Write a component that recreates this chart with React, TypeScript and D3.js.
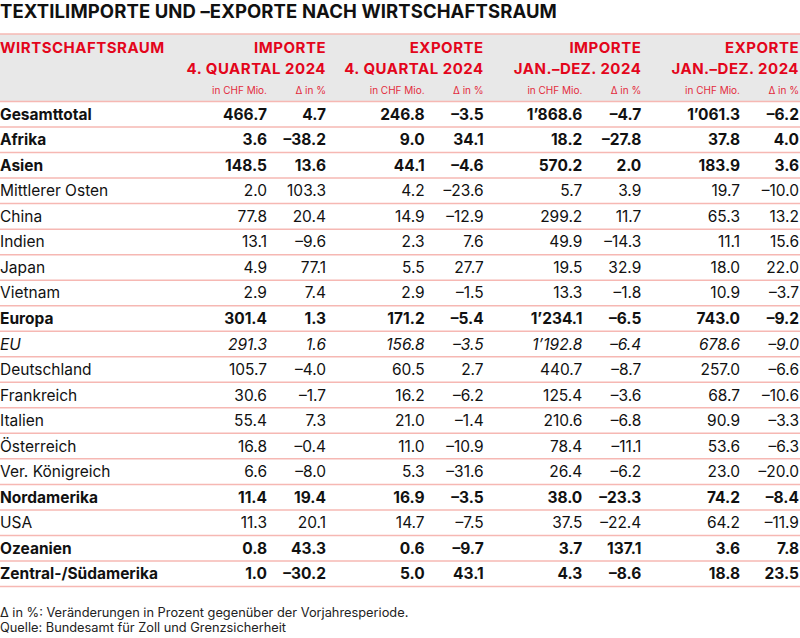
import React from "react";
import * as d3 from "d3";

const title = "TEXTILIMPORTE UND –EXPORTE NACH WIRTSCHAFTSRAUM";
const firstHeader = "WIRTSCHAFTSRAUM";
const groupHeaders1 = ["IMPORTE", "EXPORTE", "IMPORTE", "EXPORTE"];
const groupHeaders2 = ["4. QUARTAL 2024", "4. QUARTAL 2024", "JAN.–DEZ. 2024", "JAN.–DEZ. 2024"];
const subHeaders = ["in CHF Mio.", "Δ in %"];

const regions = [
  "Gesamttotal", "Afrika", "Asien", "Mittlerer Osten", "China", "Indien", "Japan", "Vietnam",
  "Europa", "EU", "Deutschland", "Frankreich", "Italien", "Österreich", "Ver. Königreich",
  "Nordamerika", "USA", "Ozeanien", "Zentral-/Südamerika",
];
const rowStyles = [
  "bold", "bold", "bold", "normal", "normal", "normal", "normal", "normal",
  "bold", "italic", "normal", "normal", "normal", "normal", "normal",
  "bold", "normal", "bold", "bold",
];
const importQ4 = ["466.7", "3.6", "148.5", "2.0", "77.8", "13.1", "4.9", "2.9", "301.4", "291.3", "105.7", "30.6", "55.4", "16.8", "6.6", "11.4", "11.3", "0.8", "1.0"];
const importQ4Delta = ["4.7", "–38.2", "13.6", "103.3", "20.4", "–9.6", "77.1", "7.4", "1.3", "1.6", "–4.0", "–1.7", "7.3", "–0.4", "–8.0", "19.4", "20.1", "43.3", "–30.2"];
const exportQ4 = ["246.8", "9.0", "44.1", "4.2", "14.9", "2.3", "5.5", "2.9", "171.2", "156.8", "60.5", "16.2", "21.0", "11.0", "5.3", "16.9", "14.7", "0.6", "5.0"];
const exportQ4Delta = ["–3.5", "34.1", "–4.6", "–23.6", "–12.9", "7.6", "27.7", "–1.5", "–5.4", "–3.5", "2.7", "–6.2", "–1.4", "–10.9", "–31.6", "–3.5", "–7.5", "–9.7", "43.1"];
const importYear = ["1’868.6", "18.2", "570.2", "5.7", "299.2", "49.9", "19.5", "13.3", "1’234.1", "1’192.8", "440.7", "125.4", "210.6", "78.4", "26.4", "38.0", "37.5", "3.7", "4.3"];
const importYearDelta = ["–4.7", "–27.8", "2.0", "3.9", "11.7", "–14.3", "32.9", "–1.8", "–6.5", "–6.4", "–8.7", "–3.6", "–6.8", "–11.1", "–6.2", "–23.3", "–22.4", "137.1", "–8.6"];
const exportYear = ["1’061.3", "37.8", "183.9", "19.7", "65.3", "11.1", "18.0", "10.9", "743.0", "678.6", "257.0", "68.7", "90.9", "53.6", "23.0", "74.2", "64.2", "3.6", "18.8"];
const exportYearDelta = ["–6.2", "4.0", "3.6", "–10.0", "13.2", "15.6", "22.0", "–3.7", "–9.2", "–9.0", "–6.6", "–10.6", "–3.3", "–6.3", "–20.0", "–8.4", "–11.9", "7.8", "23.5"];
const footnotes = [
  "Δ in %: Veränderungen in Prozent gegenüber der Vorjahresperiode.",
  "Quelle: Bundesamt für Zoll und Grenzsicherheit",
];

const W = 800;
const H = 638;
const FONT = "Inter, 'Noto Sans', Roboto, sans-serif";
const RED = "#e3051b";
const LINE = "#f6b8b3";

export default function App() {
  const groups = [
    [importQ4, importQ4Delta],
    [exportQ4, exportQ4Delta],
    [importYear, importYearDelta],
    [exportYear, exportYearDelta],
  ];
  const y = d3.scaleBand<string>().domain(regions).range([101.5, 586.5]).padding(0);
  const gx = d3.scaleLinear().domain([0, 3]).range([326, 799]);
  const valueOffset = 59;

  return (
    <svg width={W} height={H} style={{ display: "block", position: "absolute", left: 0, top: 0 }} fontFamily={FONT}>
      <rect x={0} y={0} width={W} height={H} fill="#fff" />
      <text x={0} y={17.5} fontSize={18.5} fontWeight={700} fill="#111" letterSpacing={0.1}>{title}</text>

      <rect x={0} y={34} width={W} height={67.5} fill="#e8e8e8" />
      <line x1={0} x2={W} y1={34} y2={34} stroke={LINE} strokeWidth={1.5} />
      <text x={0} y={53} fontSize={15} fontWeight={700} fill={RED} letterSpacing={0.5}>{firstHeader}</text>
      {groupHeaders1.map((h, i) => (
        <g key={"gh" + i}>
          <text x={gx(i)} y={53} fontSize={15} fontWeight={700} fill={RED} textAnchor="end" letterSpacing={0.5}>{h}</text>
          <text x={gx(i)} y={74} fontSize={15} fontWeight={700} fill={RED} textAnchor="end" letterSpacing={0.5}>{groupHeaders2[i]}</text>
          <text x={gx(i) - valueOffset} y={94} fontSize={10} fill={RED} textAnchor="end" opacity={0.85}>{subHeaders[0]}</text>
          <text x={gx(i)} y={94} fontSize={10} fill={RED} textAnchor="end" opacity={0.85}>{subHeaders[1]}</text>
        </g>
      ))}
      <line x1={0} x2={W} y1={101.5} y2={101.5} stroke={LINE} strokeWidth={1.5} />

      {regions.map((r, i) => {
        const style = rowStyles[i];
        const fw = style === "bold" ? 700 : 400;
        const fs = style === "italic" ? "italic" : "normal";
        const cy = (y(r) as number) + y.bandwidth() / 2 + 5.5;
        return (
          <g key={r}>
            <text x={0} y={cy} fontSize={15.5} fontWeight={fw} fontStyle={fs} fill="#111">{r}</text>
            {groups.map((g, gi) => (
              <g key={gi}>
                <text x={gx(gi) - valueOffset} y={cy} fontSize={15.5} fontWeight={fw} fontStyle={fs} fill="#111" textAnchor="end">{g[0][i]}</text>
                <text x={gx(gi)} y={cy} fontSize={15.5} fontWeight={fw} fontStyle={fs} fill="#111" textAnchor="end">{g[1][i]}</text>
              </g>
            ))}
            <line x1={0} x2={W} y1={(y(r) as number) + y.bandwidth()} y2={(y(r) as number) + y.bandwidth()} stroke={LINE} strokeWidth={1.5} />
          </g>
        );
      })}

      {footnotes.map((f, i) => (
        <text key={i} x={0} y={617 + i * 15} fontSize={12.8} fill="#222">{f}</text>
      ))}
    </svg>
  );
}
